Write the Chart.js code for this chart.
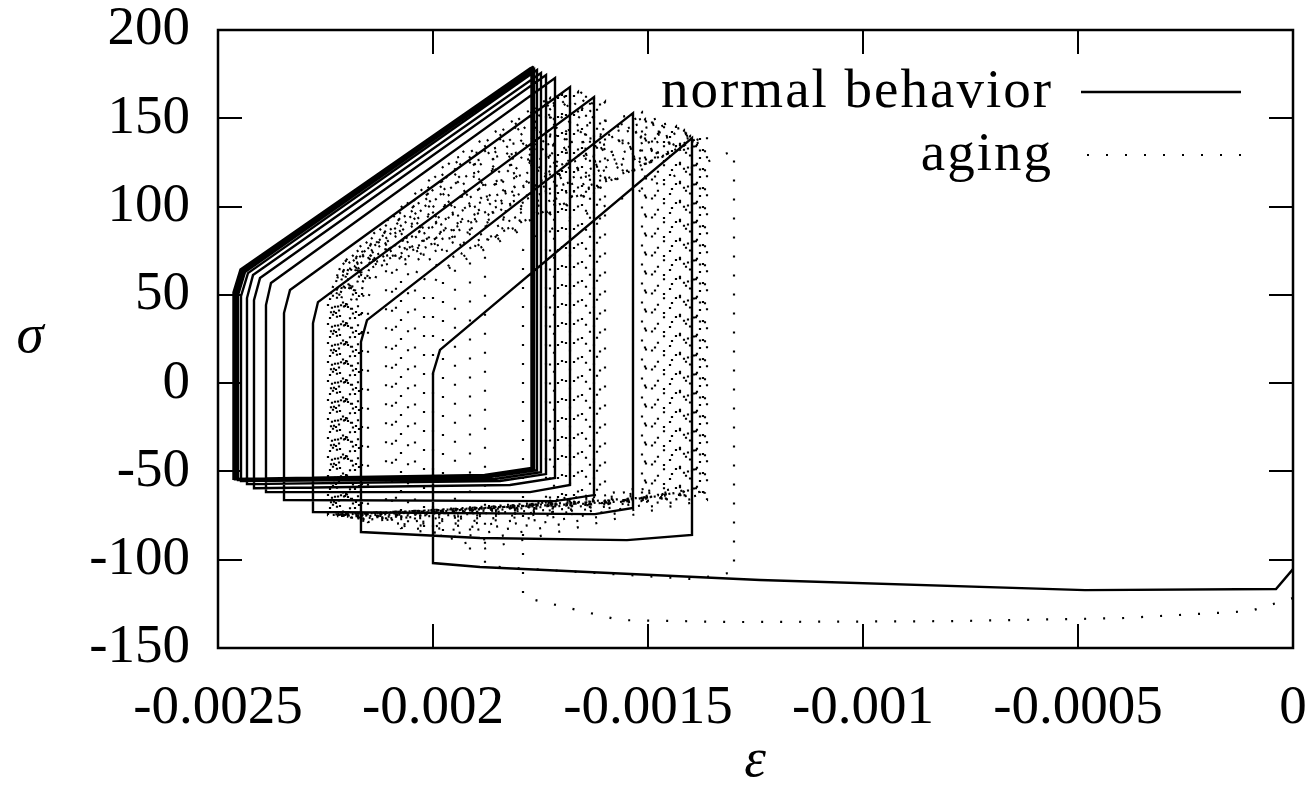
<!DOCTYPE html>
<html><head><meta charset="utf-8">
<script src="https://cdn.jsdelivr.net/npm/chart.js@4/dist/chart.umd.min.js"></script>
<style>html,body{margin:0;padding:0;background:#fff;}canvas{display:block}</style>
</head><body>
<canvas id="c" width="1309" height="801"></canvas>
<script>
// strain values are given in units of 1e-6 (converted to plain strain when plotted)
const normalEpsMicro = [
  0, -39.5, -483.7, -1239.5, -1890.7,
  -2000, -2000, -1983.7, -1397.7, -1397.7, -1548.8, -1890.7,
  -2167.5, -2167.5, -2153.5, -1534.9, -1534.9, -1623.3,
  -2279.1, -2279.1, -2267.5, -1625.6, -1625.6, -1716.3,
  -2346.5, -2346.5, -2332.6, -1681.4, -1681.4, -1774.4,
  -2388.4, -2388.4, -2376.8, -1716.3, -1716.3, -1821.0,
  -2416.3, -2416.3, -2402.3, -1737.2, -1737.2, -1844.2,
  -2432.6, -2432.6, -2418.6, -1748.9, -1748.9, -1855.8,
  -2446.5, -2446.5, -2430.3, -1758.2, -1758.2, -1867.5,
  -2453.5, -2453.5, -2437.2, -1765.1, -1765.1, -1874.4,
  -2458.2, -2458.2, -2441.9, -1767.5, -1767.5, -1876.7,
  -2460.5, -2460.5, -2444.2, -1769.8, -1769.8, -1879.1,
  -2462.8, -2462.8, -2446.5, -1771.0, -1771.0, -1880.0,
  -2464.0, -2464.0, -2447.7, -1772.1
];
const normalSig = [
  -105.3, -116.6, -117.2, -111.5, -104.1,
  -101.9, 5.7, 18.8, 138.8, -86.0, -88.9, -87.7,
  -84.3, 23.3, 35.7, 152.9, -70.7, -74.2,
  -73.0, 34.0, 45.9, 162.0, -63.4, -66.8,
  -66.2, 39.7, 52.7, 167.7, -57.7, -61.7,
  -61.7, 44.2, 56.7, 172.8, -53.7, -57.7,
  -59.5, 47.0, 59.5, 174.5, -51.5, -55.4,
  -57.2, 48.2, 61.2, 175.6, -50.4, -54.3,
  -55.4, 49.3, 62.3, 177.3, -49.3, -53.2,
  -54.9, 49.9, 62.9, 177.8, -48.8, -52.6,
  -54.4, 50.4, 63.4, 178.4, -48.2, -52.1,
  -54.4, 50.9, 64.0, 178.4, -48.2, -52.1,
  -54.2, 51.2, 64.2, 178.6, -48.0, -52.0,
  -54.2, 51.4, 64.4, 178.6
];

// aging: first loading path, then one entry per loading/unloading cycle
const agingStartEpsMicro = [0, -100, -400, -800, -1300, -1565];
const agingStartSig      = [-121.7, -129.1, -133.1, -134.8, -135.3, -134.2];
const agingLeftEpsMicro = [
  -1790.7, -1879.1, -1914.0, -1948.9, -1976.8, -2000.0, -2020.9, -2041.9, -2058.1, -2074.4, -2086.1, -2095.3, -2109.3,
  -2151.2, -2167.5, -2174.4, -2181.4, -2188.4, -2193.0, -2200.0, -2204.7, -2209.3, -2216.3, -2220.9, -2225.6, -2230.2, -2234.9, -2239.5, -2244.2,
  -2165.1, -2172.1, -2179.1, -2186.1, -2190.7, -2197.7, -2202.3, -2207.0, -2214.0, -2218.6, -2223.3, -2227.9, -2232.6, -2237.2];
const agingBottomSig = [
  -121.2, -103.6, -95.6, -91.7, -88.9, -87.2, -85.5, -84.3, -83.2, -82.1, -81.5, -80.9, -80.4,
  -78.7, -78.1, -77.5, -76.9, -76.9, -76.4, -76.4, -75.8, -75.8, -75.3, -75.3, -75.3, -74.7, -74.7, -74.7, -74.7,
  -77.9, -77.2, -76.7, -76.2, -76.0, -75.6, -75.4, -75.1, -74.9, -74.7, -74.5, -74.3, -74.2, -74.0];
const agingYieldSig = [
  75.3, 78.2, 72.6, 66.9, 61.2, 55.6, 58.4, 61.2, 62.4, 62.9, 63.5, 64.1, 64.6,
  48.2, 45.9, 47.1, 44.8, 47.6, 45.4, 46.5, 44.2, 47.1, 45.9, 48.2, 44.8, 46.5, 45.4, 47.6, 47.1,
  52.0, 49.5, 53.1, 50.6, 47.9, 51.8, 49.0, 52.6, 50.1, 48.5, 51.2, 49.8, 52.3, 50.9];
const agingKneeEpsMicro = [
  -1774.4, -1862.8, -1897.7, -1932.6, -1960.5, -1983.7, -2004.6, -2025.6, -2041.8, -2058.1, -2069.8, -2079.0, -2093.0,
  -2123.3, -2139.6, -2146.5, -2153.5, -2160.5, -2165.1, -2172.1, -2176.8, -2181.4, -2188.4, -2193.0, -2197.7, -2202.3, -2207.0, -2211.6, -2216.3,
  -2142.1, -2149.1, -2156.1, -2163.1, -2167.7, -2174.7, -2179.3, -2184.0, -2191.0, -2195.6, -2200.3, -2204.9, -2209.6, -2214.2];
const agingKneeSig = [
  82.1, 85.0, 79.4, 73.7, 68.0, 62.4, 65.2, 68.0, 69.2, 69.7, 70.3, 70.9, 71.4,
  66.3, 64.6, 65.8, 64.0, 66.9, 64.6, 65.2, 63.5, 66.3, 65.2, 67.4, 64.0, 65.8, 64.6, 66.9, 65.2,
  68.0, 65.5, 69.1, 66.6, 63.9, 67.8, 65.0, 68.6, 66.1, 64.5, 67.2, 65.8, 68.3, 66.9];
const agingMidEpsMicro = [
  null, null, null, null, null, null, null, null, null, null, null, null, null,
  -1848.9, -1865.2, -1872.1, -1879.1, -1886.1, -1890.7, -1897.7, -1902.4, -1907.0, -1914.0, -1918.6, -1923.3, -1927.9, -1932.6, -1937.2, -1941.9,
  -1885.1, -1892.1, -1899.1, -1906.1, -1910.7, -1917.7, -1922.3, -1927.0, -1934.0, -1938.6, -1943.3, -1947.9, -1952.6, -1957.2];
const agingMidSig = [
  null, null, null, null, null, null, null, null, null, null, null, null, null,
  83.9, 91.8, 95.2, 98.6, 102.0, 104.3, 107.7, 109.9, 112.2, 115.6, 117.9, 120.1, 122.4, 124.7, 126.9, 129.2,
  88.0, 96.5, 104.0, 92.5, 110.5, 100.0, 118.0, 107.0, 124.5, 97.0, 114.0, 121.0, 103.5, 127.0];
const agingRightEpsMicro = [
  -1300.0, -1362.8, -1372.1, -1379.1, -1386.1, -1393.0, -1402.3, -1411.6, -1425.6, -1444.2, -1462.8, -1483.7, -1507.0,
  -1600.0, -1611.6, -1618.6, -1625.6, -1634.9, -1644.2, -1653.5, -1662.8, -1672.1, -1681.4, -1690.7, -1700.0, -1709.3, -1718.6, -1727.9, -1737.2,
  -1367.5, -1379.1, -1388.4, -1397.7, -1407.0, -1416.3, -1425.6, -1434.9, -1448.8, -1462.8, -1476.8, -1490.7, -1504.7, -1514.0];
const agingTopSig = [
  131.9, 140.5, 139.4, 138.8, 138.3, 138.8, 139.9, 141.1, 142.8, 144.5, 146.2, 147.9, 149.6,
  159.2, 160.3, 161.5, 162.6, 163.7, 164.3, 164.9, 164.9, 164.9, 164.9, 164.3, 163.7, 163.2, 162.6, 161.5, 160.3,
  137.7, 138.8, 140.0, 141.1, 142.2, 143.4, 144.5, 145.6, 147.3, 149.0, 150.1, 151.3, 152.4, 153.6];
const agingUnloadSig = [
  -107.0, -66.2, -64.5, -63.4, -62.2, -61.7, -61.1, -60.5, -60.5, -60.0, -59.4, -58.8, -58.8,
  -69.0, -67.9, -67.3, -66.2, -65.6, -65.1, -64.5, -64.5, -64.5, -64.5, -65.1, -65.6, -66.2, -66.8, -67.3, -67.9,
  -62.0, -61.5, -61.0, -60.5, -60.8, -61.2, -61.6, -62.0, -62.5, -63.0, -63.5, -64.0, -64.5, -65.0];
const agingSagEpsMicro = [
  -1393.0, -1455.8, -1465.1, -1472.1, -1479.1, -1486.0, -1495.3, -1504.6, -1518.6, -1537.2, -1555.8, -1576.7, -1600.0,
  -1681.4, -1693.0, -1700.0, -1707.0, -1716.3, -1725.6, -1734.9, -1744.2, -1753.5, -1762.8, -1772.1, -1781.4, -1790.7, -1800.0, -1809.3, -1818.6,
  -1460.5, -1472.1, -1481.4, -1490.7, -1500.0, -1509.3, -1518.6, -1527.9, -1541.8, -1555.8, -1569.8, -1583.7, -1597.7, -1607.0];
const agingSagSig = [
  -111.0, -70.2, -68.5, -67.4, -66.2, -65.7, -65.1, -64.5, -64.5, -64.0, -63.4, -62.8, -62.8,
  -72.4, -71.3, -70.7, -69.6, -69.0, -68.5, -67.9, -67.9, -67.9, -67.9, -68.5, -69.0, -69.6, -70.2, -70.7, -71.3,
  -66.0, -65.5, -65.0, -64.5, -64.8, -65.2, -65.6, -66.0, -66.5, -67.0, -67.5, -68.0, -68.5, -69.0];

const seriesNames = ['normal behavior', 'aging'];
const xTickValues = [-0.0025, -0.002, -0.0015, -0.001, -0.0005, 0];
const xTickLabels = ['-0.0025', '-0.002', '-0.0015', '-0.001', '-0.0005', '0'];
const yTickValues = [200, 150, 100, 50, 0, -50, -100, -150];
const yTickLabels = ['200', '150', '100', '50', '0', '-50', '-100', '-150'];
const xTitle = 'ε';
const yTitle = 'σ';

const FONT = '"Liberation Serif", "DejaVu Serif", serif';
const pt = (e, s) => ({ x: e * 1e-6, y: s });
const normalPts = normalEpsMicro.map((e, i) => pt(e, normalSig[i]));
const agingPts = agingStartEpsMicro.map((e, i) => pt(e, agingStartSig[i]));
agingLeftEpsMicro.forEach((L, i) => {
  agingPts.push(pt(L, agingBottomSig[i]));
  agingPts.push(pt(L, agingYieldSig[i]));
  agingPts.push(pt(agingKneeEpsMicro[i], agingKneeSig[i]));
  if (agingMidEpsMicro[i] !== null) agingPts.push(pt(agingMidEpsMicro[i], agingMidSig[i]));
  agingPts.push(pt(agingRightEpsMicro[i], agingTopSig[i]));
  agingPts.push(pt(agingRightEpsMicro[i], agingUnloadSig[i]));
  agingPts.push(pt(agingSagEpsMicro[i], agingSagSig[i]));
});

const framePlugin = {
  id: 'frame',
  afterDatasetsDraw(chart) {
    const { ctx, chartArea: a, scales } = chart;
    const tl = 24;
    ctx.save();
    ctx.strokeStyle = '#000';
    ctx.lineWidth = 2;
    ctx.setLineDash([]);
    ctx.beginPath();
    xTickValues.forEach(v => {
      const px = Math.round(scales.x.getPixelForValue(v));
      ctx.moveTo(px, a.bottom); ctx.lineTo(px, a.bottom - tl);
      ctx.moveTo(px, a.top); ctx.lineTo(px, a.top + tl);
    });
    yTickValues.forEach(v => {
      const py = Math.round(scales.y.getPixelForValue(v));
      ctx.moveTo(a.left, py); ctx.lineTo(a.left + tl, py);
      ctx.moveTo(a.right, py); ctx.lineTo(a.right - tl, py);
    });
    ctx.stroke();
    ctx.lineWidth = 2.5;
    ctx.strokeRect(a.left, a.top, a.right - a.left, a.bottom - a.top);

    // key: text to the left of the line sample
    ctx.font = '55px ' + FONT;
    ctx.fillStyle = '#000';
    ctx.textAlign = 'right';
    ctx.textBaseline = 'alphabetic';
    if ('letterSpacing' in ctx) ctx.letterSpacing = '2px';
    const rowY = [92, 155];
    chart.data.datasets.forEach((ds, i) => {
      const y = rowY[i];
      ctx.fillText(ds.label, 1053, y + 15);
      ctx.save();
      ctx.lineWidth = ds.borderWidth;
      ctx.setLineDash(ds.borderDash || []);
      ctx.lineDashOffset = ds.borderDash ? -6 : 0;
      ctx.beginPath();
      ctx.moveTo(1081, y); ctx.lineTo(1241, y);
      ctx.stroke();
      ctx.restore();
    });
    if ('letterSpacing' in ctx) ctx.letterSpacing = '0px';

    // axis titles
    ctx.font = 'italic 55px ' + FONT;
    ctx.textAlign = 'center';
    ctx.textBaseline = 'middle';
    ctx.fillText(yTitle, 30, 338);
    ctx.fillText(xTitle, 755, 762);
    ctx.restore();
  }
};

new Chart(document.getElementById('c'), {
  type: 'scatter',
  data: {
    datasets: [
      { label: seriesNames[0], data: normalPts, showLine: true,
        borderColor: '#000', borderWidth: 2.4, pointRadius: 0, tension: 0, fill: false },
      { label: seriesNames[1], data: agingPts, showLine: true,
        borderColor: '#000', borderWidth: 2.2, borderDash: [2, 17], pointRadius: 0, tension: 0, fill: false }
    ]
  },
  options: {
    responsive: false,
    animation: false,
    layout: { padding: { top: 30, right: 16, left: 0, bottom: 0 } },
    plugins: { legend: { display: false }, tooltip: { enabled: false } },
    scales: {
      x: {
        type: 'linear', min: -0.0025, max: 0,
        afterBuildTicks: s => { s.ticks = xTickValues.map(v => ({ value: v })); },
        afterFit: s => { s.height = 153; s.paddingLeft = 0; s.paddingRight = 0; },
        grid: { display: false, drawTicks: false },
        border: { display: false },
        ticks: { color: '#000', font: { family: FONT, size: 55 }, padding: 28, maxRotation: 0,
          callback: (v, i) => xTickLabels[i] }
      },
      y: {
        type: 'linear', min: -150, max: 200,
        afterBuildTicks: s => { s.ticks = yTickValues.map(v => ({ value: v })); },
        afterFit: s => { s.width = 218; s.paddingTop = 0; s.paddingBottom = 0; },
        grid: { display: false, drawTicks: false },
        border: { display: false },
        ticks: { color: '#000', font: { family: FONT, size: 55 }, padding: 28,
          callback: (v, i) => yTickLabels[i] }
      }
    }
  },
  plugins: [framePlugin]
});
</script>
</body></html>
